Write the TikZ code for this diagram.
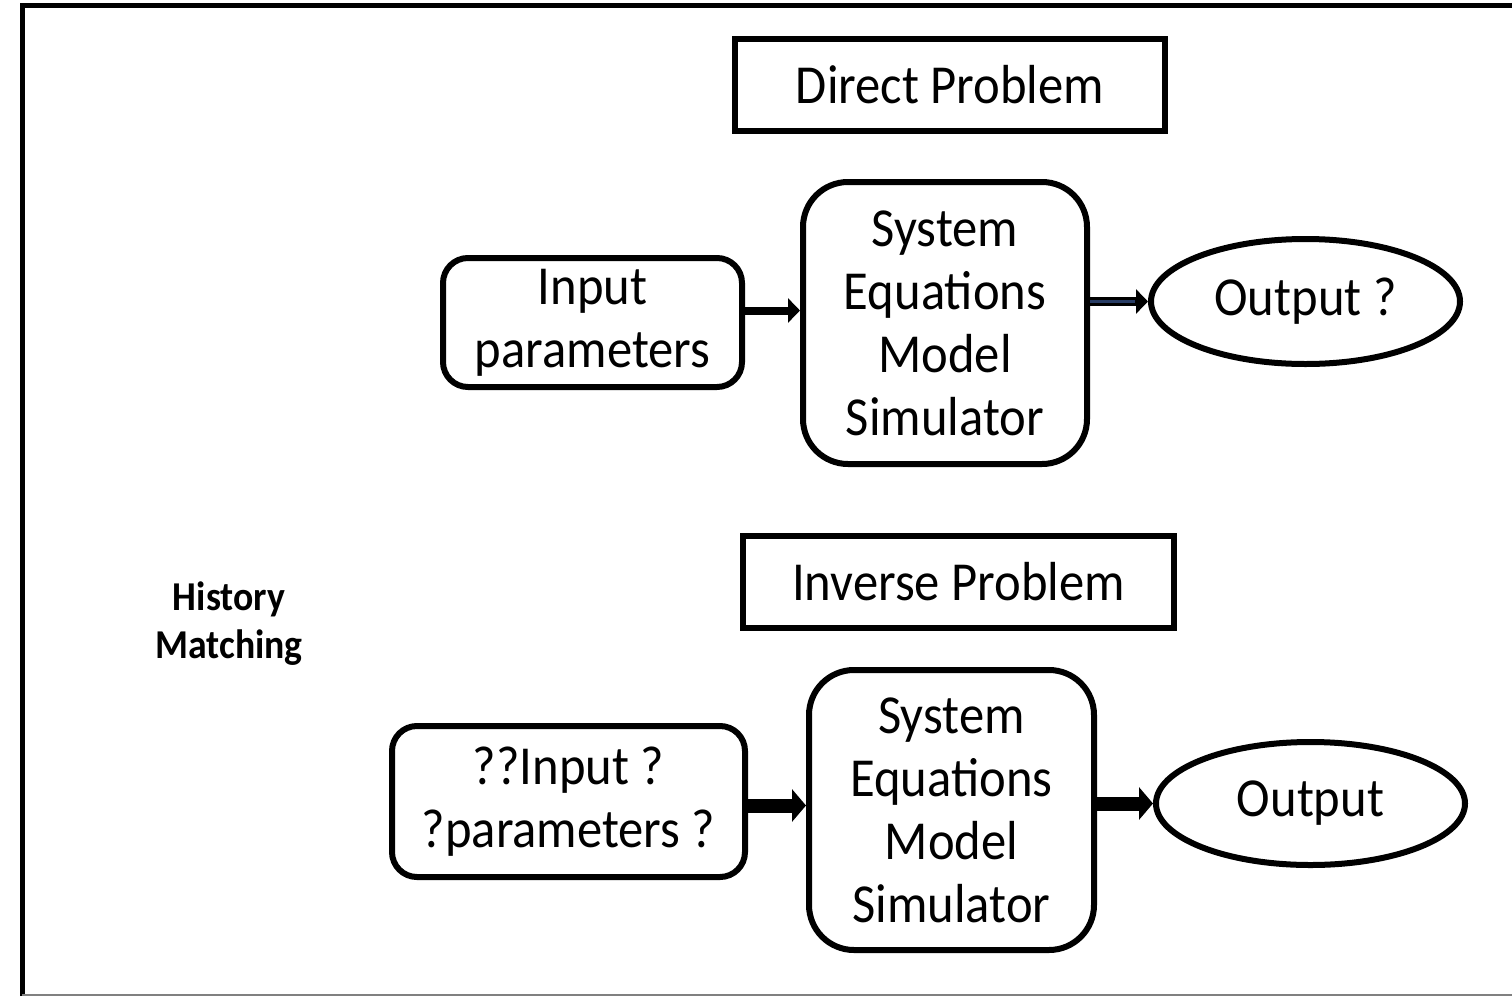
\documentclass[tikz,border=0pt]{standalone}
\usepackage{fontspec}
\setmainfont{Carlito}[FakeStretch=0.92]
\usetikzlibrary{arrows.meta,shapes.geometric}
\definecolor{shaftblue}{RGB}{40,60,100}
\tikzset{
  x=1pt, y=-1pt,
  label/.style={font=\fontsize{55}{63}\selectfont, align=center, inner sep=0pt},
  titlebox/.style={label, draw, line width=6pt, minimum width=430pt, minimum height=92pt},
  roundbox/.style={label, draw, line width=6pt, rounded corners=#1},
  oval/.style={label, draw, ellipse, line width=6pt},
  thinarrow/.style={line width=8pt, -{Triangle[length=12pt,width=24pt]}},
  thickarrow/.style={line width=14pt, -{Triangle[length=14pt,width=32pt]}}
}
\begin{document}
\begin{tikzpicture}
\useasboundingbox (0,0) rectangle (1512,996);
% outer frame
\draw[line width=5pt] (22,996) -- (22,5) -- (1512,5);
\draw[gray, line width=2pt] (22,995) -- (1512,995);

% direct problem
\node[titlebox] (dp) at (950,85) {Direct Problem};
\node[roundbox=25pt, minimum width=299pt, minimum height=129pt] (in1) at (592.5,322.5) {Input\\parameters};
\node[roundbox=45pt, minimum width=284pt, minimum height=282pt] (sys1) at (945,323) {System\\Equations\\Model\\Simulator};
\node[oval, minimum width=309pt, minimum height=125pt] (out1) at (1305.5,301.5) {Output ?};

\draw[thinarrow] ([yshift=12pt]in1.east) -- ([yshift=12pt]in1.east -| sys1.west);
\draw[line width=9pt, -{Triangle[length=12pt,width=24pt]}] (out1.west -| sys1.east) -- (out1.west);
\draw[shaftblue, line width=3pt, shorten >=13pt] (out1.west -| sys1.east) -- (out1.west);

% inverse problem
\node[titlebox, minimum width=431pt] (ip) at (958.5,582) {Inverse Problem};
\node[label, font=\fontsize{41}{48}\selectfont\bfseries] (hm) at (229,624) {History\\Matching};
\node[roundbox=25pt, minimum width=353pt, minimum height=151pt] (in2) at (568.5,801.5) {??Input ?\\?parameters ?};
\node[roundbox=45pt, minimum width=285pt, minimum height=280pt] (sys2) at (951.5,810) {System\\Equations\\Model\\Simulator};
\node[oval, minimum width=309pt, minimum height=123pt] (out2) at (1310.5,803.5) {Output};

\draw[thickarrow] ([yshift=-4pt]in2.east) -- ([yshift=-4pt]in2.east -| sys2.west);
\draw[thickarrow] (out2.west -| sys2.east) -- (out2.west);
\end{tikzpicture}
\end{document}
